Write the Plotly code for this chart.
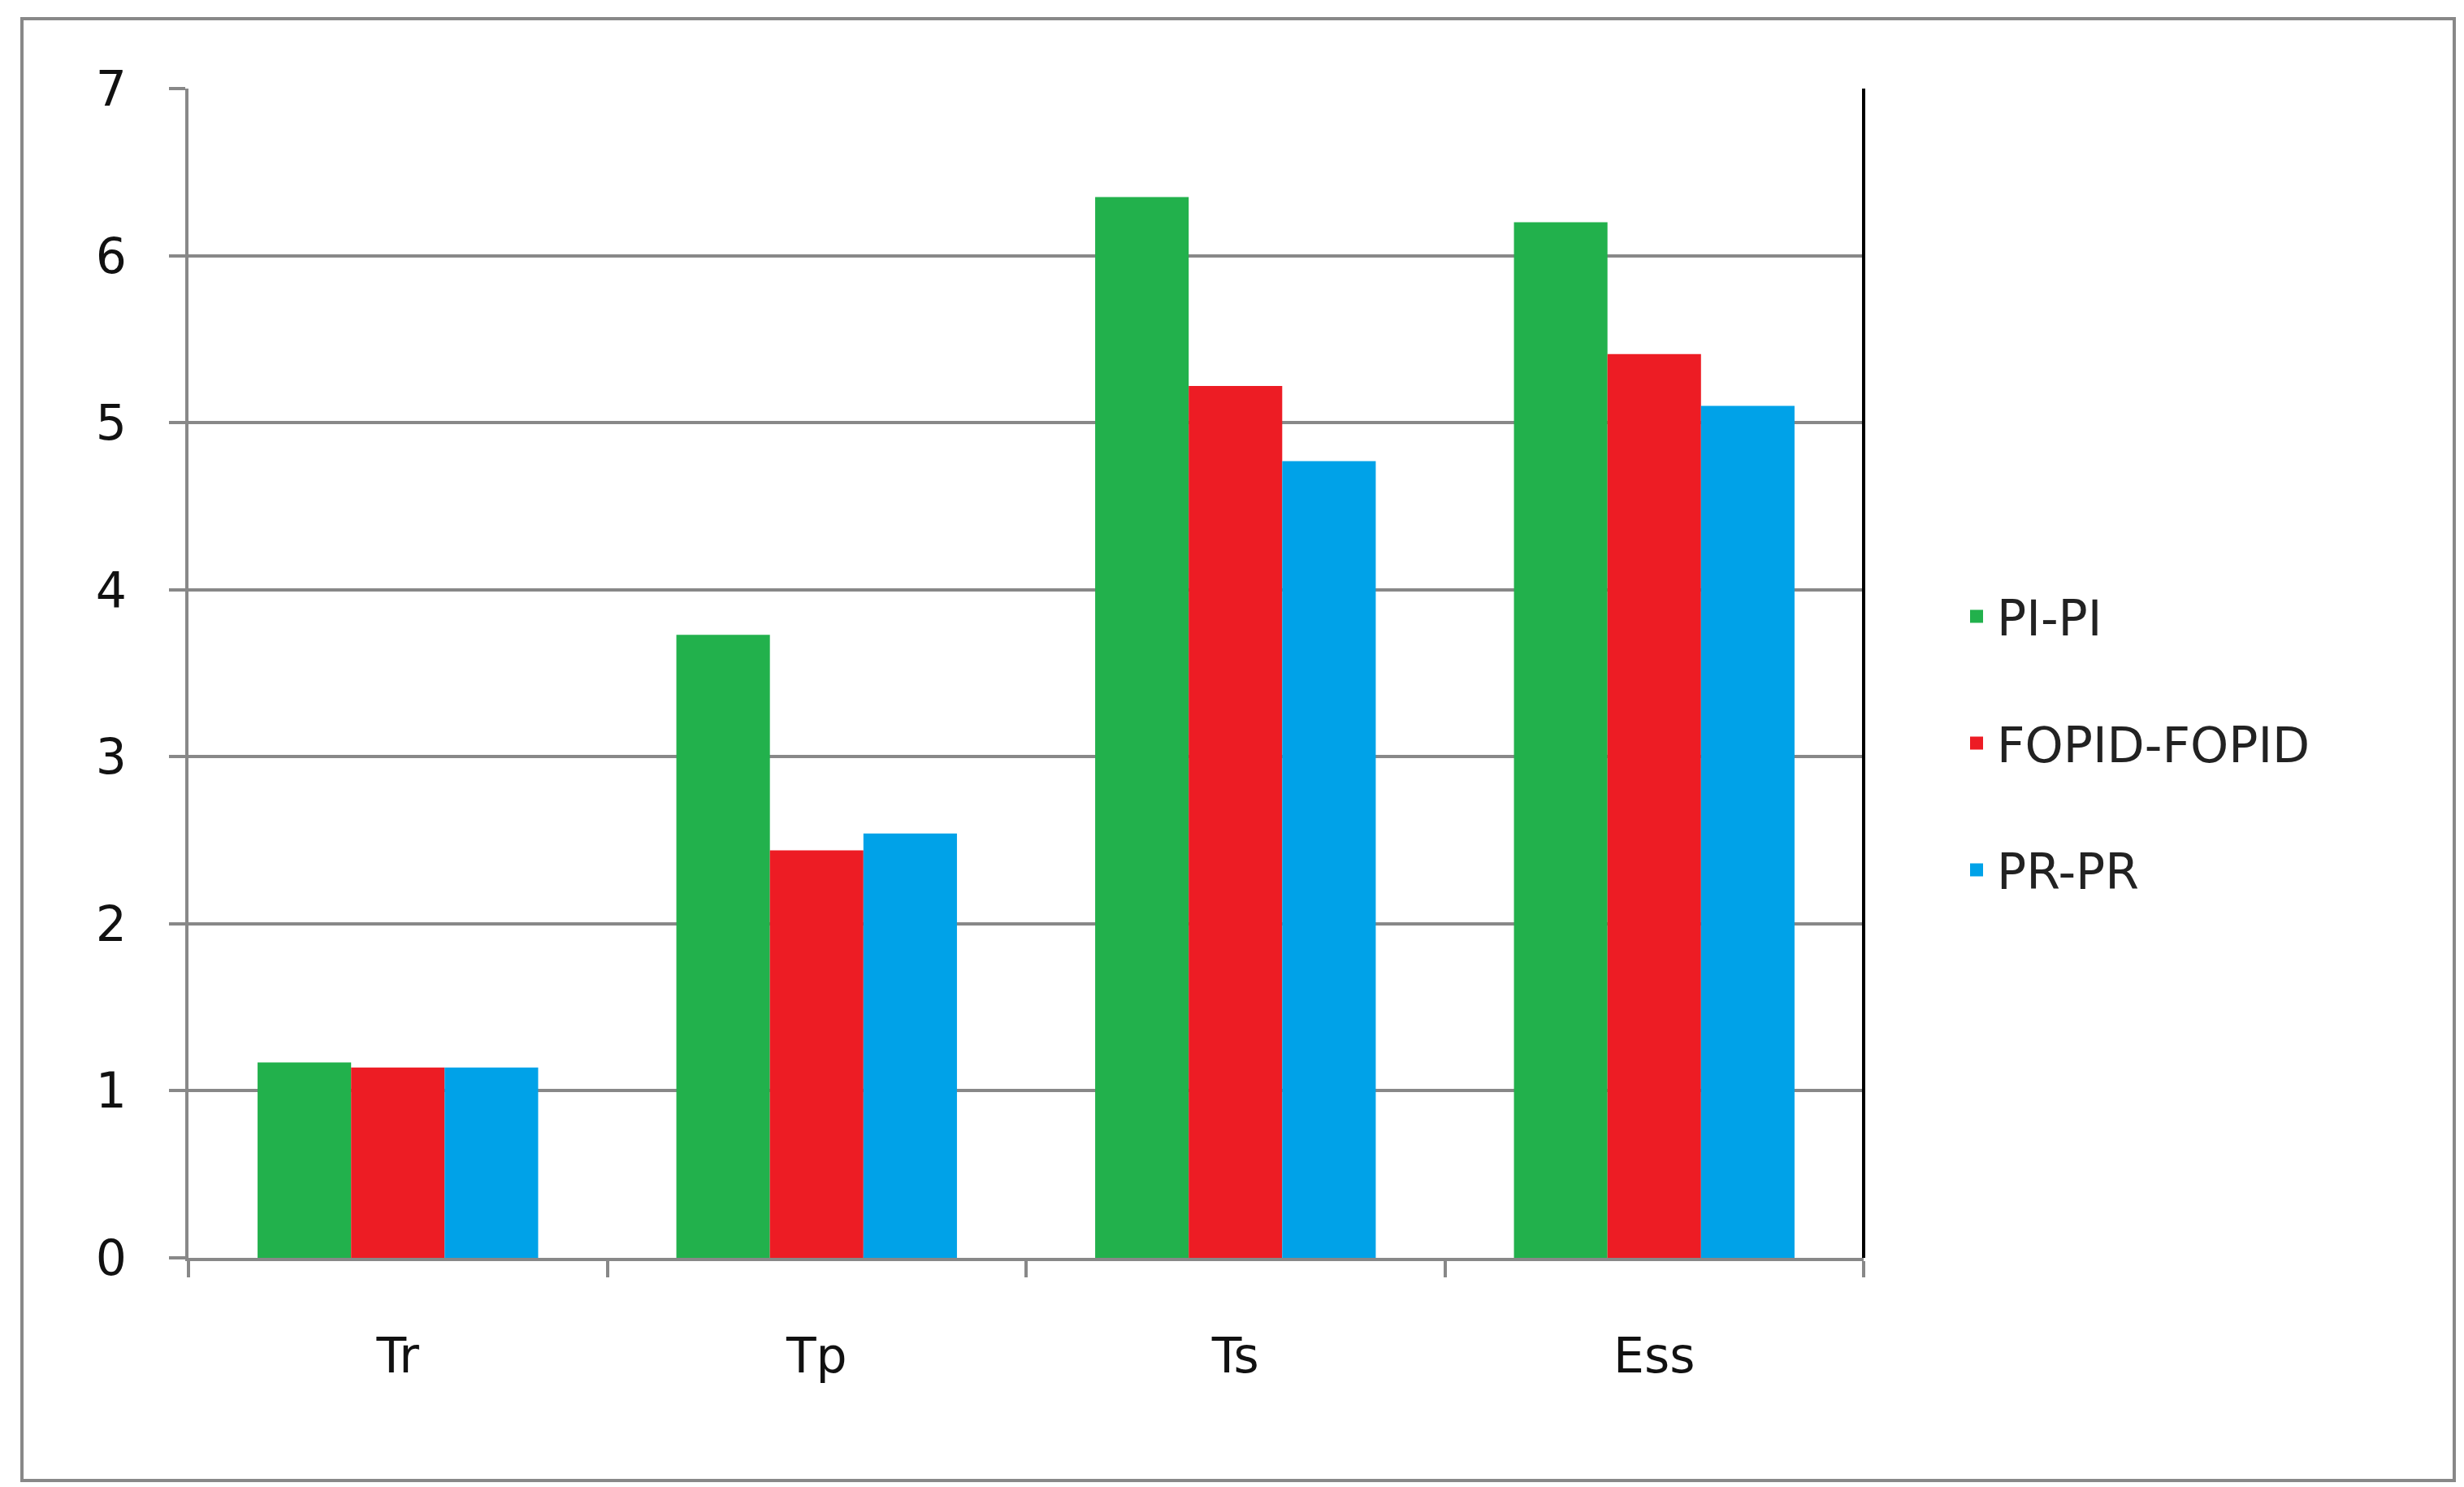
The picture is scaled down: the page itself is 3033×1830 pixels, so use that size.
import plotly.graph_objects as go

categories = ["Tr", "Tp", "Ts", "Ess"]
series_names = ["PI-PI", "FOPID-FOPID", "PR-PR"]
pi_pi = [1.17, 3.73, 6.35, 6.20]
fopid = [1.14, 2.44, 5.22, 5.41]
pr_pr = [1.14, 2.54, 4.77, 5.10]
colors = ["#22B14C", "#ED1C24", "#00A2E8"]
y_ticks = [0, 1, 2, 3, 4, 5, 6, 7]

fig = go.Figure()
for i, (name, vals) in enumerate(zip(series_names, [pi_pi, fopid, pr_pr])):
    fig.add_trace(go.Bar(x=categories, y=vals, name=name, marker_color=colors[i],
                         marker_line_width=0, showlegend=False))
for i, name in enumerate(series_names):
    fig.add_trace(go.Scatter(x=[None], y=[None], mode="markers", name=name, legendgroup=name,
                             marker=dict(symbol="square", size=42, color=colors[i])))

W, H = 3033, 1830
l, r, t, b = 224, 747, 101, 290
pw, ph = W - l - r, H - t - b
font = dict(family="DejaVu Sans", size=60, color="#111")

fig.update_layout(
    width=W, height=H, margin=dict(l=l, r=r, t=t, b=b),
    paper_bgcolor="white", plot_bgcolor="white",
    barmode="group", bargap=0.33, bargroupgap=0,
    font=font,
    legend=dict(x=(2400 - l) / pw, y=1 - (705 - t) / ph, xanchor="left", yanchor="top",
                font=dict(family="DejaVu Sans", size=60, color="#222"),
                tracegroupgap=75, itemwidth=40),
    xaxis=dict(showgrid=False, showline=True, linecolor="#888", linewidth=4,
               ticks="outside", tickson="boundaries", ticklen=20, tickwidth=4, tickcolor="#888",
               ticklabelstandoff=65),
    yaxis=dict(range=[0, 7], tickvals=y_ticks, showgrid=True, gridcolor="#888", gridwidth=4,
               showline=True, linecolor="#888", linewidth=4, ticks="outside", ticklen=20,
               tickwidth=4, tickcolor="#888", zeroline=False, ticklabelstandoff=40),
    shapes=[
        dict(type="line", xref="paper", yref="paper", x0=1, x1=1, y0=0, y1=1,
             line=dict(color="black", width=4)),
        dict(type="rect", xref="paper", yref="paper",
             x0=(19 - l) / pw, x1=(3013 - l) / pw,
             y0=-(1814 - (H - b)) / ph, y1=1 + (t - 15) / ph,
             line=dict(color="#888", width=4)),
    ],
)
fig.write_html("out.html")
